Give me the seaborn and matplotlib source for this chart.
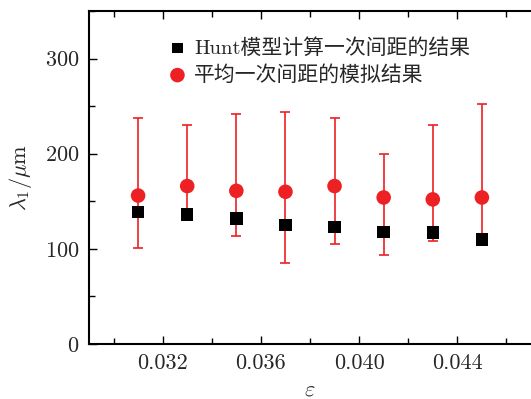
import pandas as pd
import seaborn as sns
import matplotlib.pyplot as plt
from matplotlib.ticker import MultipleLocator, FormatStrFormatter, FixedLocator

# values
eps = [0.031, 0.033, 0.035, 0.037, 0.039, 0.041, 0.043, 0.045]
hunt = [139, 136, 132, 125, 123, 118, 117, 110]
sim = [156, 166, 161, 160, 166, 154, 152, 154]
sim_hi = [238, 230, 242, 244, 238, 200, 230, 252]
sim_lo = [101, 132, 114, 85, 105, 94, 108, 104]

hunt_label = "Hunt模型计算一次间距的结果"
sim_label = "平均一次间距的模拟结果"

sns.set_style("ticks")
plt.rcParams['font.family'] = ['cmr10', 'Noto Sans CJK SC']
plt.rcParams['mathtext.fontset'] = 'cm'
plt.rcParams['axes.formatter.use_mathtext'] = True

df = pd.DataFrame({"eps": eps, "hunt": hunt, "sim": sim})
red = '#ED2024'

fig = plt.figure(figsize=(5.31, 3.99), dpi=100)
ax = fig.add_axes([89 / 531, 55 / 399, 1 - 89 / 531, (344 - 11) / 399])

# error bars of the simulated spacing
yerr = [[s - l for s, l in zip(sim, sim_lo)], [h - s for s, h in zip(sim, sim_hi)]]
ax.errorbar(eps, sim, yerr=yerr, fmt='none', ecolor=red, elinewidth=1.2,
            capsize=3.5, capthick=1.2, zorder=2)

sns.scatterplot(data=df, x="eps", y="hunt", marker='s', s=80, color='black',
                edgecolor='none', label=hunt_label, ax=ax, zorder=3)
sns.scatterplot(data=df, x="eps", y="sim", marker='o', s=110, color=red,
                edgecolor='none', label=sim_label, ax=ax, zorder=4)

ax.set_xlim(0.029, 0.047)
ax.set_ylim(0, 350)
ax.xaxis.set_major_locator(FixedLocator([0.032, 0.036, 0.040, 0.044]))
ax.xaxis.set_minor_locator(MultipleLocator(0.002))
ax.xaxis.set_major_formatter(FormatStrFormatter('%.3f'))
ax.yaxis.set_major_locator(MultipleLocator(100))
ax.yaxis.set_minor_locator(MultipleLocator(50))

ax.tick_params(which='both', direction='in', top=True, right=False,
               labelsize=16, width=1.0, color='black', pad=7)
ax.tick_params(which='major', length=6)
ax.tick_params(which='minor', length=4)
for side in ['left', 'bottom', 'top']:
    ax.spines[side].set_linewidth(1.5)
    ax.spines[side].set_color('black')
ax.spines['right'].set_visible(False)

ax.set_xlabel(r'$\varepsilon$', fontsize=16, labelpad=5)
ax.set_ylabel(r'$\mathrm{\lambda_1/\mu m}$', fontsize=16, labelpad=8)

leg = ax.legend(loc='upper left', bbox_to_anchor=(0.16, 0.945), frameon=False,
                fontsize=15, handletextpad=0.35, labelspacing=0.35, borderaxespad=0,
                handlelength=0.9)
leg.legend_handles[0].set_sizes([55])
leg.legend_handles[1].set_sizes([110])

fig.savefig("out.png", dpi=100)
